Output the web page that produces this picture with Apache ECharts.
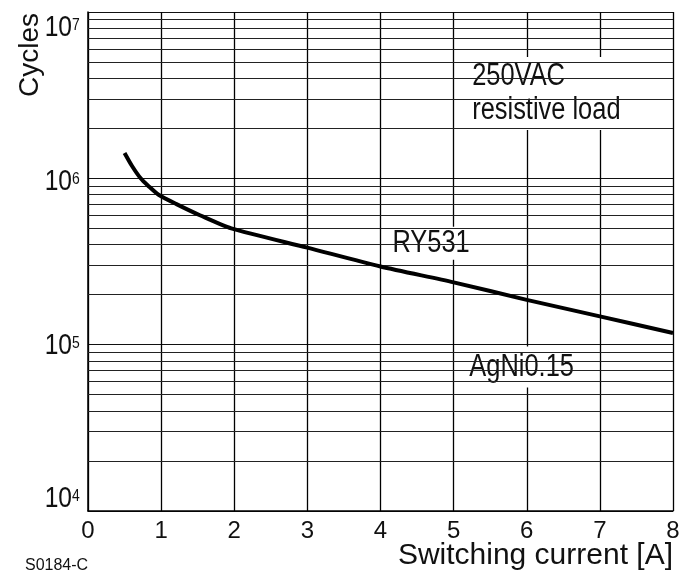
<!DOCTYPE html>
<html>
<head>
<meta charset="utf-8">
<script src="https://cdn.jsdelivr.net/npm/echarts@6/dist/echarts.min.js"></script>
<style>
html,body{margin:0;padding:0;background:#fff;}
#c{width:688px;height:577px;}
</style>
</head>
<body>
<div id="c"></div>
<script>
// ---- data ----
const currentA = [0.5, 0.6, 0.72, 0.825, 0.96, 1.21, 1.53, 1.96, 3, 4, 5, 6, 7, 8];
const cyclesRY531 = [1.42e6, 1.19e6, 1.0e6, 9.0e5, 8.0e5, 7.0e5, 6.0e5, 5.0e5, 3.83e5, 2.95e5, 2.37e5, 1.86e5, 1.48e5, 1.175e5];
const xTicks = [0, 1, 2, 3, 4, 5, 6, 7, 8];
const yDecades = [1e4, 1e5, 1e6, 1e7];
const yTickBase = '10';
const yTickExp = ['4', '5', '6', '7'];
const yMinorLines = [
  2e4, 3e4, 4e4, 5e4, 6e4, 7e4, 8e4, 9e4,
  2e5, 3e5, 4e5, 5e5, 6e5, 7e5, 8e5, 9e5,
  2e6, 3e6, 4e6, 5e6, 6e6, 7e6, 8e6, 9e6
];
const annoText = ['250VAC\nresistive load', 'RY531', 'AgNi0.15'];
const annoX = [6.375, 4.692, 5.93];
const annoY = [3.24e6, 4.07e5, 7.33e4];
const xTitle = 'Switching current [A]';
const yTitle = 'Cycles';
const chartCode = 'S0184-C';

const SANS = '"Liberation Sans", Arial, sans-serif';
const COND = 0.82; // horizontal condensing of the label face

const chart = echarts.init(document.getElementById('c'), null, {renderer: 'canvas'});

// box geometry (px) for each annotation: [width, height, textAlign, textOffsetX]
const annoBox = [
  [178, 73, 'left', -82],
  [88, 33, 'center', 0],
  [123, 41, 'center', 0]
];
// vertical nudges of the decade labels, bottom to top
const yLabelNudge = [-12, 1, 3, 16];

const option = {
  animation: false,
  backgroundColor: '#fff',
  grid: {left: 88, right: 15, top: 12, bottom: 66, containLabel: false, outerBoundsMode: 'none'},
  xAxis: {
    type: 'value',
    min: xTicks[0],
    max: xTicks[xTicks.length - 1],
    interval: 1,
    axisLine: {show: true, lineStyle: {color: '#000', width: 1.5}},
    axisTick: {show: false},
    axisLabel: {color: '#111', fontFamily: SANS, fontSize: 24, margin: 8},
    splitLine: {show: true, lineStyle: {color: '#000', width: 1.3}}
  },
  yAxis: {
    type: 'log',
    logBase: 10,
    min: yDecades[0],
    max: yDecades[yDecades.length - 1],
    axisLine: {show: true, lineStyle: {color: '#000', width: 1.5}},
    axisTick: {show: false},
    splitLine: {show: true, lineStyle: {color: '#111', width: 1.2}},
    axisLabel: {show: false}
  },
  graphic: [
    {type: 'text', x: 30, y: 55, rotation: Math.PI / 2,
      style: {text: yTitle, fill: '#111', font: '28px ' + SANS, align: 'center', verticalAlign: 'middle'}},
    {type: 'text', right: 15, top: 541,
      style: {text: xTitle, fill: '#111', font: '30px ' + SANS}},
    {type: 'text', left: 25, top: 558,
      style: {text: chartCode, fill: '#111', font: '16px ' + SANS}}
  ],
  series: [
    {
      type: 'line',
      data: [],
      z: 1,
      silent: true,
      markLine: {
        silent: true,
        symbol: 'none',
        animation: false,
        label: {show: false},
        lineStyle: {color: '#222', width: 1, type: 'solid'},
        data: yMinorLines.map(v => ({yAxis: v}))
      }
    },
    {
      // decade tick labels 10^n
      type: 'custom',
      z: 3,
      silent: true,
      clip: false,
      data: yDecades.map((v, i) => [0, v, i]),
      renderItem: function (params, api) {
        const i = api.value(2);
        const p = api.coord([api.value(0), api.value(1)]);
        const cy = p[1] + yLabelNudge[i];
        return {
          type: 'group',
          children: [
            {type: 'text', x: p[0] - 16, y: cy, scaleX: COND,
              style: {text: yTickBase, fill: '#111', fontFamily: SANS, fontSize: 30, align: 'right', verticalAlign: 'middle'}},
            {type: 'text', x: p[0] - 16, y: cy - 11, scaleX: COND,
              style: {text: yTickExp[i], fill: '#111', fontFamily: SANS, fontSize: 17, align: 'left', verticalAlign: 'top'}}
          ]
        };
      }
    },
    {
      // in-plot annotations with white boxes
      type: 'custom',
      z: 3,
      silent: true,
      clip: false,
      data: annoX.map((x, i) => [x, annoY[i], i]),
      renderItem: function (params, api) {
        const i = api.value(2);
        const p = api.coord([api.value(0), api.value(1)]);
        const b = annoBox[i];
        return {
          type: 'group',
          x: p[0], y: p[1],
          children: [
            {type: 'rect', shape: {x: -b[0] / 2, y: -b[1] / 2, width: b[0], height: b[1]}, style: {fill: '#fff'}},
            {type: 'text', x: b[3], y: 0, scaleX: COND,
              style: {text: annoText[i], fill: '#111', fontFamily: SANS, fontSize: 31, lineHeight: 34, align: b[2], verticalAlign: 'middle'}}
          ]
        };
      }
    },
    {
      type: 'line',
      z: 5,
      smooth: 0.25,
      symbol: 'none',
      silent: true,
      lineStyle: {color: '#000', width: 4},
      data: currentA.map((x, i) => [x, cyclesRY531[i]])
    }
  ]
};
chart.setOption(option);
</script>
</body>
</html>
